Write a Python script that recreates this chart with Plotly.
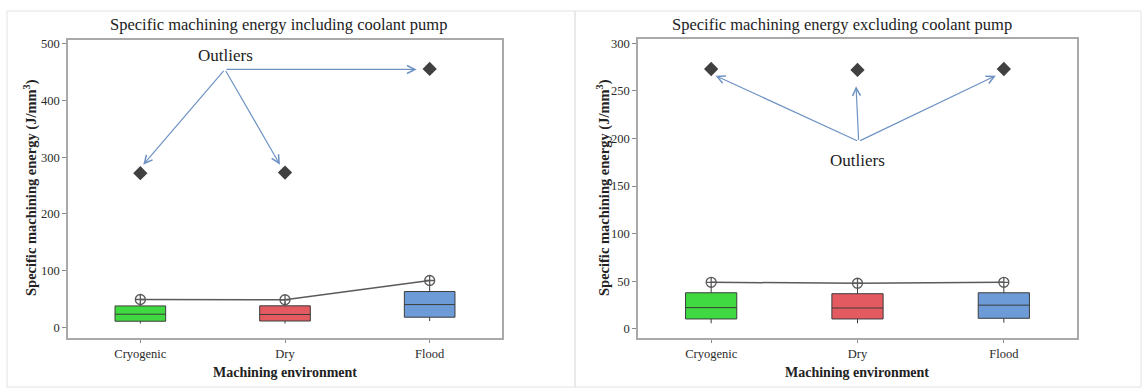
import plotly.graph_objects as go

# ---------------- data ----------------
categories = ["Cryogenic", "Dry", "Flood"]

# Left panel: including coolant pump
inc_q1 = [10.6, 11.0, 17.7]
inc_median = [23.0, 22.5, 40.0]
inc_q3 = [37.6, 37.8, 63.0]
inc_low = [6.5, 6.5, 11.0]
inc_high = [45.0, 45.0, 77.0]
inc_mean = [49.0, 48.5, 82.5]
inc_outlier = [272.0, 273.0, 456.0]

# Right panel: excluding coolant pump
exc_q1 = [10.5, 10.5, 11.2]
exc_median = [22.4, 22.0, 25.0]
exc_q3 = [38.0, 37.0, 38.0]
exc_low = [6.0, 6.0, 6.5]
exc_high = [45.0, 44.5, 45.0]
exc_mean = [49.0, 48.0, 49.0]
exc_outlier = [273.0, 272.0, 273.0]

box_colors = ["#41d941", "#e35b60", "#6c9bd8"]
titles = ["Specific machining energy including coolant pump",
          "Specific machining energy excluding coolant pump"]
y_title = "Specific machining energy (J/mm<sup>3</sup>)"
x_title = "Machining environment"
outlier_label = "Outliers"

SERIF = "Liberation Serif, Times New Roman, serif"
W, H = 1144, 391

fig = go.Figure()

def add_panel(xa, ya, q1, med, q3, lo, hi, mean, outl):
    for i, c in enumerate(categories):
        fig.add_trace(go.Box(
            x=[c], q1=[q1[i]], median=[med[i]], q3=[q3[i]],
            lowerfence=[lo[i]], upperfence=[hi[i]],
            width=0.35, whiskerwidth=0, boxpoints=False,
            fillcolor=box_colors[i], line=dict(color="#3c3c3c", width=1),
            xaxis=xa, yaxis=ya, showlegend=False))
    fig.add_trace(go.Scatter(
        x=categories, y=mean, mode="lines+markers",
        line=dict(color="#5a5a5a", width=1.5),
        marker=dict(symbol="circle-cross-open", size=10,
                    color="#5a5a5a", line=dict(width=1.3, color="#5a5a5a")),
        xaxis=xa, yaxis=ya, showlegend=False))
    fig.add_trace(go.Scatter(
        x=categories, y=outl, mode="markers",
        marker=dict(symbol="diamond", size=11, color="#404040"),
        xaxis=xa, yaxis=ya, showlegend=False))

add_panel("x", "y", inc_q1, inc_median, inc_q3, inc_low, inc_high, inc_mean, inc_outlier)
add_panel("x2", "y2", exc_q1, exc_median, exc_q3, exc_low, exc_high, exc_mean, exc_outlier)

axis_common = dict(showline=True, mirror=True, linecolor="#a9a9a9", linewidth=1.5,
                   showgrid=False, zeroline=False, ticks="outside", tickcolor="#8a8a8a",
                   ticklen=4, tickfont=dict(family=SERIF, size=12.5, color="#2a2a2a"),
                   automargin=False)

fig.update_layout(
    width=W, height=H,
    margin=dict(l=0, r=0, t=0, b=0),
    paper_bgcolor="white", plot_bgcolor="white",
    boxmode="overlay",
    xaxis=dict(domain=[68 / W, 502 / W], type="category", range=[-0.5, 2.5],
               anchor="y", **{**axis_common, "ticklen": 3}),
    yaxis=dict(domain=[1 - 338 / H, 1 - 40 / H], range=[-19, 507],
               tickvals=[0, 100, 200, 300, 400, 500], anchor="x", **axis_common),
    xaxis2=dict(domain=[638 / W, 1077 / W], type="category", range=[-0.5, 2.5],
                anchor="y2", **{**axis_common, "ticklen": 3}),
    yaxis2=dict(domain=[1 - 338 / H, 1 - 39 / H], range=[-9.5, 304.5],
                tickvals=[0, 50, 100, 150, 200, 250, 300], anchor="x2", **axis_common),
)

# panel frames
for x0, x1 in [(7, 575), (575, 1141)]:
    fig.add_shape(type="rect", xref="paper", yref="paper",
                  x0=x0 / W, x1=x1 / W, y0=1 - 387 / H, y1=1 - 11 / H,
                  line=dict(color="#e2e2e2", width=1), layer="below")

ann = []
# titles
for t, cx in zip(titles, [278, 842]):
    ann.append(dict(text=t, xref="paper", yref="paper", x=cx / W, y=1 - 25 / H,
                    showarrow=False, xanchor="center", yanchor="middle",
                    font=dict(family=SERIF, size=16.5, color="#222222")))
# axis titles
for cx in [30, 603]:
    ann.append(dict(text=y_title, xref="paper", yref="paper", x=cx / W, y=1 - 188 / H,
                    textangle=-90, showarrow=False, xanchor="center", yanchor="middle",
                    font=dict(family=SERIF, size=14.5, color="#222222", weight="bold")))
for cx in [285, 857]:
    ann.append(dict(text=x_title, xref="paper", yref="paper", x=cx / W, y=1 - 372 / H,
                    showarrow=False, xanchor="center", yanchor="middle",
                    font=dict(family=SERIF, size=14, color="#222222", weight="bold")))

arrow_style = dict(showarrow=True, arrowhead=5, arrowsize=1.3, arrowwidth=1.2,
                   arrowcolor="#6f93c4", text="", standoff=0)
# left panel arrows
for hx, hy in [(0.02, 287), (0.965, 287), (1.91, 455)]:
    ann.append(dict(x=hx, y=hy, ax=0.585, ay=455, xref="x", yref="y",
                    axref="x", ayref="y", **arrow_style))
ann.append(dict(text=outlier_label, x=0.59, y=480, xref="x", yref="y", showarrow=False,
                font=dict(family=SERIF, size=17, color="#222222")))
# right panel arrows
for hx, hy in [(0.03, 266), (0.99, 255), (1.945, 266)]:
    ann.append(dict(x=hx, y=hy, ax=1.008, ay=197, xref="x2", yref="y2",
                    axref="x2", ayref="y2", **arrow_style))
ann.append(dict(text=outlier_label, x=1.0, y=177, xref="x2", yref="y2", showarrow=False,
                font=dict(family=SERIF, size=17, color="#222222")))

fig.update_layout(annotations=ann)
fig.write_html("out.html")
